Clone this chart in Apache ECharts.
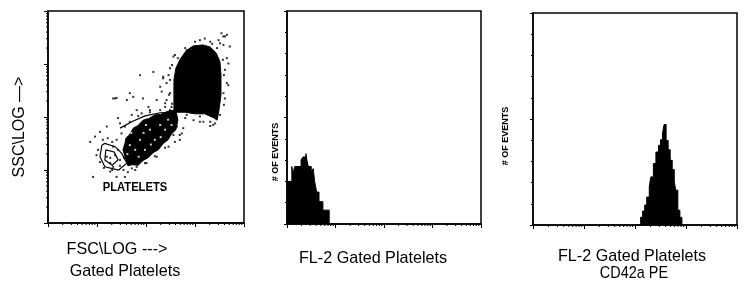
<!DOCTYPE html>
<html><head><meta charset="utf-8">
<script src="https://cdn.jsdelivr.net/npm/echarts@6/dist/echarts.min.js"></script>
<style>html,body{margin:0;padding:0;background:#fff}#c{width:750px;height:289px}</style>
</head><body><div id="c"></div>
<script>
// ---- Panel 1: FSC (log decades) vs SSC (log decades) ----
const blobPolygon = [[2.57,2.09],[2.57,2.70],[2.61,2.92],[2.69,3.08],[2.82,3.25],[2.96,3.34],[3.16,3.36],[3.31,3.32],[3.43,3.21],[3.51,3.04],[3.53,2.79],[3.53,2.42],[3.49,2.13],[3.45,1.94],[3.39,1.98],[3.20,2.06],[3.00,2.06],[2.80,2.09]];
const corePolygon = [[1.53,1.38],[1.57,1.50],[1.59,1.60],[1.66,1.66],[1.74,1.79],[1.84,1.84],[1.94,1.94],[2.06,1.97],[2.18,2.04],[2.30,2.05],[2.45,2.11],[2.61,2.13],[2.65,1.94],[2.63,1.85],[2.61,1.76],[2.52,1.68],[2.45,1.57],[2.35,1.50],[2.25,1.38],[2.15,1.33],[2.04,1.23],[1.94,1.18],[1.84,1.09],[1.72,1.10],[1.63,1.08],[1.58,1.22]];
const gateLoopOuter = [[1.10,1.47],[1.06,1.25],[1.16,1.06],[1.44,1.00],[1.61,1.13],[1.50,1.32],[1.37,1.44],[1.16,1.50],[1.10,1.47]];
const gateLoopInner = [[1.18,1.38],[1.16,1.19],[1.31,1.09],[1.43,1.19],[1.35,1.34],[1.18,1.38]];
const upperContour = [[1.47,1.79],[1.73,1.92],[1.98,2.02],[2.29,2.08],[2.59,2.09]];
const scatterDots = [[0.86,1.53],[0.96,1.63],[0.99,1.28],[0.92,0.87],[1.06,1.72],[1.20,1.82],[1.27,0.97],[1.40,0.87],[1.57,0.87],[1.43,1.98],[1.61,2.32],[1.67,2.45],[1.37,2.35],[1.33,2.35],[1.40,2.36],[1.74,2.38],[1.88,2.79],[2.15,2.85],[2.29,2.57],[2.35,2.73],[2.42,2.64],[1.94,2.35],[2.05,2.19],[2.22,2.32],[2.42,2.32],[2.49,2.45],[2.52,2.19],[2.59,3.17],[2.83,3.26],[2.73,1.69],[2.76,1.79],[2.83,2.04],[3.10,2.01],[3.31,1.91],[3.37,1.85],[3.44,2.07],[3.58,2.45],[3.65,2.64],[3.61,2.89],[3.51,3.39],[3.58,3.52],[3.65,3.55],[3.54,3.58],[3.48,3.45],[3.71,3.33],[3.68,3.01],[2.56,1.66],[2.69,1.57],[2.46,1.44],[2.22,1.25],[2.01,1.13],[1.81,1.06],[1.71,1.03],[1.54,1.00],[1.27,1.13],[1.20,1.25],[1.33,1.44],[1.40,1.57],[1.50,1.69],[1.57,1.82],[1.47,1.88],[1.71,2.04],[1.81,2.13],[1.91,2.07],[2.08,2.13],[2.29,2.13],[2.42,2.04],[2.59,1.98],[2.63,1.82],[2.35,1.57],[2.22,1.44],[2.08,1.32],[1.91,1.25],[1.78,1.19],[1.64,1.13],[1.47,1.19],[1.33,1.06],[2.56,3.14],[2.46,2.79],[2.35,2.76],[2.49,2.92],[2.32,2.48],[2.39,2.26],[2.49,2.13],[3.10,3.45],[3.20,3.48],[3.31,3.42],[3.61,3.52],[3.58,3.36],[3.65,3.11],[3.68,2.60],[3.61,2.35],[3.51,2.04],[3.41,1.88],[2.97,1.94],[3.17,1.91],[2.80,1.98],
  [1.02,1.38],[1.12,1.57],[1.22,1.60],[1.31,1.53],[1.43,1.38],[1.55,1.23],[1.47,1.08],[1.31,1.00],[1.14,1.04],[1.06,1.15],[1.27,1.23],[1.37,1.28],[1.67,1.91],[1.84,2.02],[2.08,2.09],[2.39,2.19],[2.53,2.25],[2.61,2.32],[2.69,1.66],[2.59,1.53],[2.39,1.42],[2.18,1.26],[1.98,1.13],[1.78,1.00],[1.63,0.96],
  [2.80,3.30],[3.00,3.42],[3.35,3.38],[3.45,3.30],[2.65,3.11],[2.53,2.98],[2.49,2.70],[2.47,2.42],[3.57,3.08],[3.59,2.79],[3.59,2.23],[3.31,1.83],[3.10,1.91]];
const whiteSpecks = [[1.88,1.57],[2.08,1.76],[2.29,1.85],[1.98,1.38],[1.78,1.38],[2.18,1.57],[1.67,1.47],[2.39,1.76],[1.70,1.70],[2.00,1.85],[2.45,1.95],[2.30,1.62],[1.85,1.25],[2.10,1.48],[1.62,1.30],[2.52,1.85],[1.95,1.70]];

// ---- Panel 2: FL-2 histogram (bin start in log decades, % of full scale) ----
const hist2Edges  = [0, 0.10, 0.12, 0.16, 0.29, 0.33, 0.39, 0.41, 0.44, 0.50, 0.54, 0.57, 0.61, 0.66, 0.74, 0.87];
const hist2Counts = [20, 27, 23.5, 27, 30, 31.5, 33, 30, 27, 24.5, 26, 20, 15, 10.5, 6.5, 0];

// ---- Panel 3: FL-2 CD42a PE histogram ----
const hist3Edges  = [2.10, 2.15, 2.19, 2.23, 2.28, 2.31, 2.36, 2.41, 2.46, 2.50, 2.54, 2.57, 2.61, 2.65, 2.69, 2.73, 2.77, 2.80, 2.84, 2.88, 2.92];
const hist3Counts = [3.6, 6.6, 9.4, 13.2, 18, 22.7, 29, 34.4, 37.6, 40.2, 43.3, 47.4, 39.9, 35.5, 30.5, 26.2, 20.3, 16.4, 7, 3.6, 0];

// log axis minor tick positions (2..9 within each of 4 decades)
const logMinor = [];
for (let d = 0; d < 4; d++) for (let m = 2; m <= 9; m++) logMinor.push(d + Math.log10(m));

const chart = echarts.init(document.getElementById('c'), null, {renderer: 'canvas'});
const K = '#000';
const gridBase = {show: true, borderColor: K, borderWidth: 1.5, backgroundColor: 'transparent'};
function xAx(i) {
  return {gridIndex: i, type: 'value', min: 0, max: 4, interval: 1,
    axisLine: {show: true, lineStyle: {color: K, width: 1.5}},
    axisTick: {show: true, length: 4, lineStyle: {color: K, width: 1}},
    axisLabel: {show: false}, splitLine: {show: false}};
}
function yHist(i) {
  return {gridIndex: i, type: 'value', min: 0, max: 100, interval: 50,
    axisLine: {show: true, lineStyle: {color: K, width: 1.5}},
    axisTick: {show: true, length: 3, lineStyle: {color: K, width: 1}},
    minorTick: {show: true, splitNumber: 5, length: 2, lineStyle: {color: K, width: 1}},
    axisLabel: {show: false}, splitLine: {show: false}, minorSplitLine: {show: false}};
}
function shape(arr, idx, kind) {
  return {type: 'custom', coordinateSystem: 'cartesian2d', xAxisIndex: idx, yAxisIndex: idx, data: arr, silent: true,
    renderItem: function (params, api) {
      if (params.dataIndex !== 0) return null;
      const pts = arr.map(p => api.coord(p));
      if (kind === 'fill') return {type: 'polygon', shape: {points: pts}, style: {fill: K, stroke: K, lineWidth: 1}};
      return {type: 'polyline', shape: {points: pts}, style: {fill: null, stroke: K, lineWidth: 1.2}};
    }};
}
function xMinor(idx) {
  return {type: 'custom', coordinateSystem: 'cartesian2d', xAxisIndex: idx, yAxisIndex: idx, silent: true,
    data: logMinor.map(v => [v, 0]),
    renderItem: function (params, api) {
      const p = api.coord([api.value(0), 0]);
      return {type: 'line', shape: {x1: p[0], y1: p[1], x2: p[0], y2: p[1] + 2}, style: {stroke: K, lineWidth: 1}};
    }};
}
function yMinor(idx) {
  return {type: 'custom', coordinateSystem: 'cartesian2d', xAxisIndex: idx, yAxisIndex: idx, silent: true,
    data: logMinor.map(v => [0, v]),
    renderItem: function (params, api) {
      const p = api.coord([0, api.value(1)]);
      return {type: 'line', shape: {x1: p[0], y1: p[1], x2: p[0] - 2, y2: p[1]}, style: {stroke: K, lineWidth: 1}};
    }};
}
function hist(edges, counts, idx) {
  return {type: 'line', xAxisIndex: idx, yAxisIndex: idx, step: 'end', symbol: 'none', silent: true,
    data: edges.map((e, i) => [e, counts[i]]),
    lineStyle: {color: K, width: 1}, itemStyle: {color: K}, areaStyle: {color: K, opacity: 1}};
}
const F = '"Liberation Sans", Arial, sans-serif';
function txt(x, y, s, font, rot, sx) {
  return {type: 'text', x: x, y: y, rotation: rot || 0, scaleX: sx || 1, silent: true,
    style: {text: s, font: font, fill: K, textAlign: 'center', textVerticalAlign: 'middle', verticalAlign: 'middle'}};
}
chart.setOption({
  animation: false,
  grid: [
    Object.assign({left: 48, top: 11, width: 196, height: 212}, gridBase),
    Object.assign({left: 287, top: 11, width: 194, height: 213}, gridBase),
    Object.assign({left: 533, top: 13, width: 204, height: 212}, gridBase)
  ],
  xAxis: [xAx(0), xAx(1), xAx(2)],
  yAxis: [
    {gridIndex: 0, type: 'value', min: 0, max: 4, interval: 1,
     axisLine: {show: true, lineStyle: {color: K, width: 1.5}},
     axisTick: {show: true, length: 4, lineStyle: {color: K, width: 1}},
     axisLabel: {show: false}, splitLine: {show: false}},
    yHist(1), yHist(2)
  ],
  series: [
    shape(blobPolygon, 0, 'fill'),
    shape(corePolygon, 0, 'fill'),
    shape(gateLoopOuter, 0, 'line'),
    shape(gateLoopInner, 0, 'line'),
    shape(upperContour, 0, 'line'),
    {type: 'scatter', xAxisIndex: 0, yAxisIndex: 0, symbol: 'rect', symbolSize: 2, data: scatterDots, itemStyle: {color: K}, silent: true},
    {type: 'scatter', xAxisIndex: 0, yAxisIndex: 0, symbol: 'rect', symbolSize: 2, data: whiteSpecks, itemStyle: {color: '#fff'}, silent: true},
    hist(hist2Edges, hist2Counts, 1),
    hist(hist3Edges, hist3Counts, 2),
    xMinor(0), yMinor(0), xMinor(1), xMinor(2)
  ],
  graphic: [
    txt(20, 127, 'SSC\\LOG —>', '16px ' + F, Math.PI / 2),
    txt(135, 187, 'PLATELETS', 'bold 13px ' + F, 0, 0.86),
    txt(276, 152, '# OF EVENTS', 'bold 9px ' + F, Math.PI / 2),
    txt(506, 136, '# OF EVENTS', 'bold 9px ' + F, Math.PI / 2),
    txt(117, 249, 'FSC\\LOG --->', '17px ' + F, 0, 0.95),
    txt(125, 271, 'Gated Platelets', '17px ' + F, 0, 0.95),
    txt(373, 258, 'FL-2 Gated Platelets', '17px ' + F, 0, 0.95),
    txt(632, 256, 'FL-2 Gated Platelets', '17px ' + F, 0, 0.95),
    txt(634, 273, 'CD42a PE', '17px ' + F, 0, 0.85)
  ]
});
</script></body></html>
